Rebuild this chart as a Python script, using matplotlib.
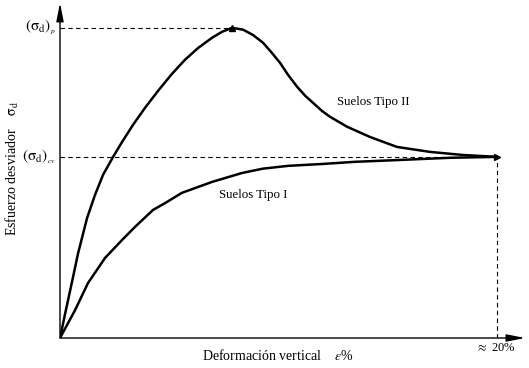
import numpy as np
import matplotlib
matplotlib.use('Agg')
import matplotlib.pyplot as plt

plt.rcParams['font.family'] = 'Liberation Serif'
plt.rcParams['mathtext.fontset'] = 'stix'

# strain (%) and normalised deviator stress
eps_tipo2 = [0, 0.27, 0.55, 0.82, 1.24, 1.60, 1.97, 2.43, 2.84, 3.34, 3.89, 4.49,
             5.13, 5.72, 6.32, 6.96, 7.41, 7.87,
             8.38, 8.83, 9.29, 9.70, 10.07, 10.44, 10.85, 11.22, 11.58, 11.99,
             12.36, 13.14, 14.19, 15.42, 16.93, 18.44, 20.0]
sig_tipo2 = [0, 0.090, 0.181, 0.271, 0.387, 0.461, 0.526, 0.584, 0.632, 0.687, 0.742, 0.797,
             0.852, 0.897, 0.935, 0.968, 0.987, 1.0,
             0.994, 0.977, 0.952, 0.919, 0.887, 0.848, 0.810, 0.781, 0.758, 0.732,
             0.713, 0.681, 0.648, 0.616, 0.600, 0.590, 0.584]

eps_tipo1 = [0, 0.69, 1.28, 2.06, 2.84, 3.43, 4.26, 4.81, 5.58, 6.95, 8.33, 9.29,
             10.44, 11.99, 13.50, 15.56, 17.85, 20.0]
sig_tipo1 = [0, 0.090, 0.177, 0.258, 0.316, 0.358, 0.413, 0.435, 0.468, 0.503, 0.532, 0.546,
             0.555, 0.561, 0.568, 0.574, 0.581, 0.584]

eps_peak = 7.87
sig_peak = 1.0
sig_cv = 0.584
eps_end = 20.0

W, H = 529, 368
fig = plt.figure(figsize=(W / 100, H / 100), dpi=100)
# axes: origin at px (60, 338), right end ~525, top ~3
ax = fig.add_axes([60 / W, (H - 338) / H, (525 - 60) / W, (338 - 3) / H])
ax.set_xlim(0, 21.28)
ax.set_ylim(0, 1.08)
ax.axis('off')

# axes with arrowheads
arr = dict(arrowstyle='-|>,head_length=1.1,head_width=0.22', color='black', lw=1.0,
           shrinkA=0, shrinkB=0)
ax.annotate('', xy=(1, 0), xytext=(0, 0), xycoords='axes fraction', arrowprops=arr)
ax.annotate('', xy=(0, 1), xytext=(0, 0), xycoords='axes fraction', arrowprops=arr)

# dashed guides
ax.plot([0, eps_peak], [sig_peak, sig_peak], ls=(0, (4, 3)), color='black', lw=0.8)
ax.plot([0, eps_end], [sig_cv, sig_cv], ls=(0, (4, 3)), color='black', lw=0.8)
ax.plot([eps_end, eps_end], [0, sig_cv], ls=(0, (4, 3)), color='black', lw=0.8)

# curves
ax.plot(eps_tipo2, sig_tipo2, color='black', lw=1.8, solid_capstyle='round',
        solid_joinstyle='round')
ax.plot(eps_tipo1, sig_tipo1, color='black', lw=1.8, solid_capstyle='round',
        solid_joinstyle='round')
ax.plot([eps_peak], [sig_peak], marker='^', color='black', ms=4.5)
ax.plot([eps_end], [sig_cv], marker='>', color='black', ms=4.5)

# labels
ax.text(14.33, 0.761, 'Suelos Tipo II', fontsize=9.3, ha='center', va='center')
ax.text(8.83, 0.461, 'Suelos Tipo I', fontsize=9.3, ha='center', va='center')
ax.text(-0.2, sig_peak, r'$(\mathrm{\sigma_d})_{_p}$', fontsize=11, ha='right', va='center')
ax.text(-0.2, sig_cv, r'$(\mathrm{\sigma_d})_{_{cv}}$', fontsize=11, ha='right', va='center')
fig.text(496 / W, 1 - 348 / H, r'$\approx$ 20%', fontsize=9, ha='center', va='center')
fig.text(202 / W, 1 - 355 / H, 'Deformación vertical    $\\varepsilon$%', fontsize=10,
         ha='left', va='center')
fig.text(12 / W, 1 - 168 / H, r'Esfuerzo desviador    $\mathrm{\sigma_d}$', fontsize=10,
         rotation=90, ha='center', va='center')

fig.savefig('out.png', dpi=100)
